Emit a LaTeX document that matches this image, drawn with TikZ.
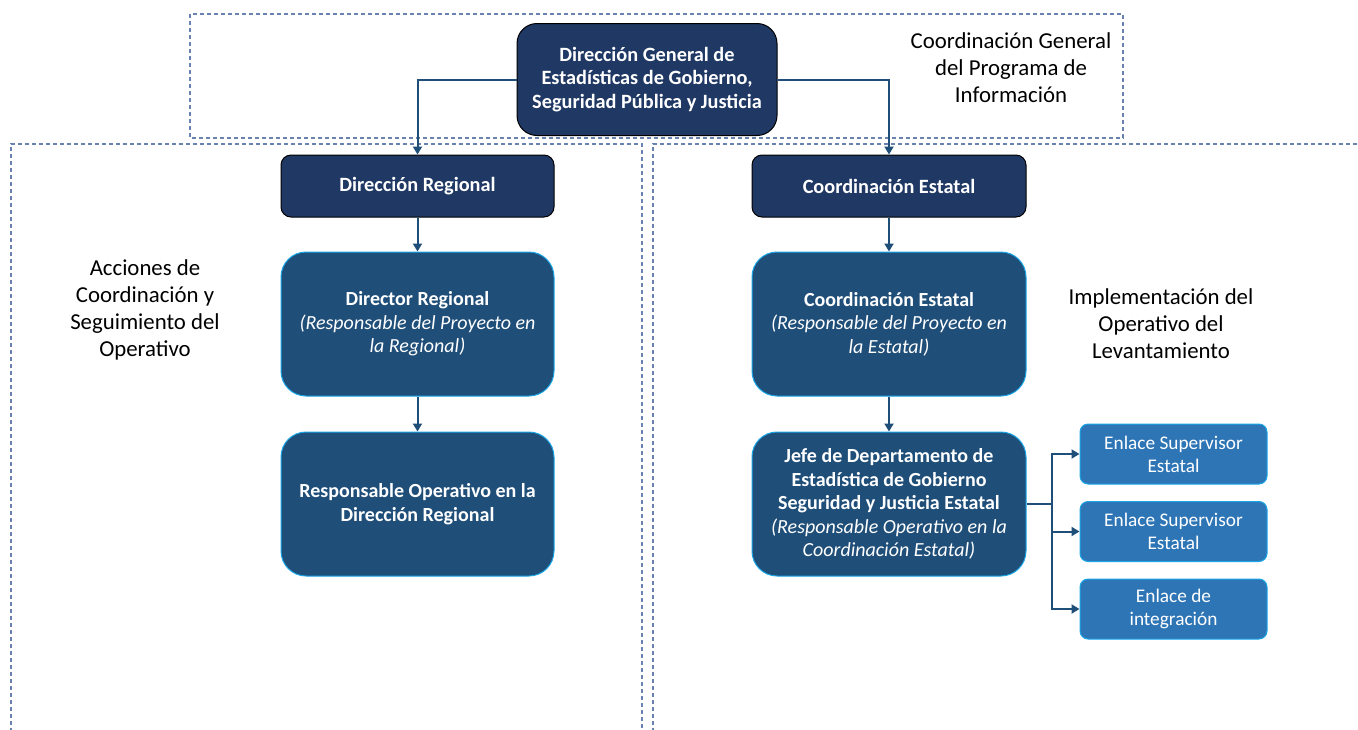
\documentclass[tikz,border=0pt]{standalone}
\usepackage{fontspec}
\setmainfont{Carlito}
\usetikzlibrary{arrows.meta}
\definecolor{navy}{HTML}{203864}
\definecolor{midblue}{HTML}{1F4E79}
\definecolor{lightblue}{HTML}{2E75B6}
\definecolor{cyanedge}{HTML}{1AA7E8}
\definecolor{dashcol}{HTML}{6A82B0}
\definecolor{arrowcol}{HTML}{1F4E79}
\tikzset{
  region/.style={draw=dashcol, line width=1.4pt, dash pattern=on 4pt off 3pt},
  topbox/.style={draw=black, line width=1pt, fill=navy, text=white, align=center, inner sep=0pt,
    font=\fontsize{20.3}{23.5}\selectfont\bfseries},
  midbox/.style={draw=cyanedge, line width=1pt, fill=midblue, text=white, align=center, inner sep=0pt,
    minimum width=273pt, minimum height=144pt, rounded corners=25pt,
    font=\fontsize{20}{23.5}\selectfont},
  smallbox/.style={draw=cyanedge, line width=1pt, fill=lightblue, text=white, align=center, inner sep=0pt,
    minimum width=187pt, minimum height=60pt, rounded corners=8pt,
    font=\fontsize{19.3}{23}\selectfont},
  label/.style={align=center, text=black, inner sep=0pt, font=\fontsize{22.8}{27}\selectfont},
  conn/.style={draw=arrowcol, line width=2pt},
  arr/.style={conn, -{Triangle[length=8pt,width=9pt]}}
}
\begin{document}
\begin{tikzpicture}[x=1pt,y=-1pt]
\useasboundingbox (0,0) rectangle (1358,729);
\fill[white] (0,0) rectangle (1358,729);
\begin{scope}
\clip (0,0) rectangle (1358,729);
\draw[region] (190,14) rectangle (1123,138);
\draw[region] (11,760) -- (11,144) -- (642,144) -- (642,760);
\draw[region] (653,760) -- (653,144) -- (1400,144);
\end{scope}

\node[topbox, minimum width=260pt, minimum height=112pt, rounded corners=20pt] (dg) at (647,79.5)
  {Dirección General de\\Estadísticas de Gobierno,\\Seguridad Pública y Justicia};
\node[topbox, minimum width=273pt, minimum height=62pt, rounded corners=10pt] (dreg) at (417.5,186) {Dirección Regional};
\node[topbox, minimum width=274pt, minimum height=62pt, rounded corners=10pt] (cest) at (889,186) {Coordinación Estatal};

\node[midbox] (dir) at (417.5,324) {\textbf{Director Regional}\\\textit{(Responsable del Proyecto en}\\\textit{la Regional)}};
\node[midbox] (resp) at (417.5,504) {\textbf{Responsable Operativo en la}\\\textbf{Dirección Regional}};
\node[midbox, minimum width=274pt] (ce2) at (889,324) {\textbf{Coordinación Estatal}\\\textit{(Responsable del Proyecto en}\\\textit{la Estatal)}};
\node[midbox, minimum width=274pt] (jefe) at (889,504) {\textbf{Jefe de Departamento de}\\\textbf{Estadística de Gobierno}\\\textbf{Seguridad y Justicia Estatal}\\\textit{(Responsable Operativo en la}\\\textit{Coordinación Estatal)}};

\node[smallbox] (s1) at (1173.5,454) {Enlace Supervisor\\Estatal};
\node[smallbox] (s2) at (1173.5,531.5) {Enlace Supervisor\\Estatal};
\node[smallbox] (s3) at (1173.5,609) {Enlace de\\integración};

\node[label] (lt) at (1011,68) {Coordinación General\\del Programa de\\Información};
\node[label] (ll) at (145,309.5) {Acciones de\\Coordinación y\\Seguimiento del\\Operativo};
\node[label] (lr) at (1161,324) {Implementación del\\Operativo del\\Levantamiento};

\draw[arr] (dg.west) -| (dreg.north);
\draw[arr] (dg.east) -| (cest.north);
\draw[arr] (dreg.south) -- (dir.north);
\draw[arr] (dir.south) -- (resp.north);
\draw[arr] (cest.south) -- (ce2.north);
\draw[arr] (ce2.south) -- (jefe.north);
\coordinate (br) at (1052,504);
\draw[conn] (jefe.east) -- (br);
\draw[arr] (br) |- (s1.west);
\draw[arr] (br) |- (s2.west);
\draw[arr] (br) |- (s3.west);
\end{tikzpicture}
\end{document}
